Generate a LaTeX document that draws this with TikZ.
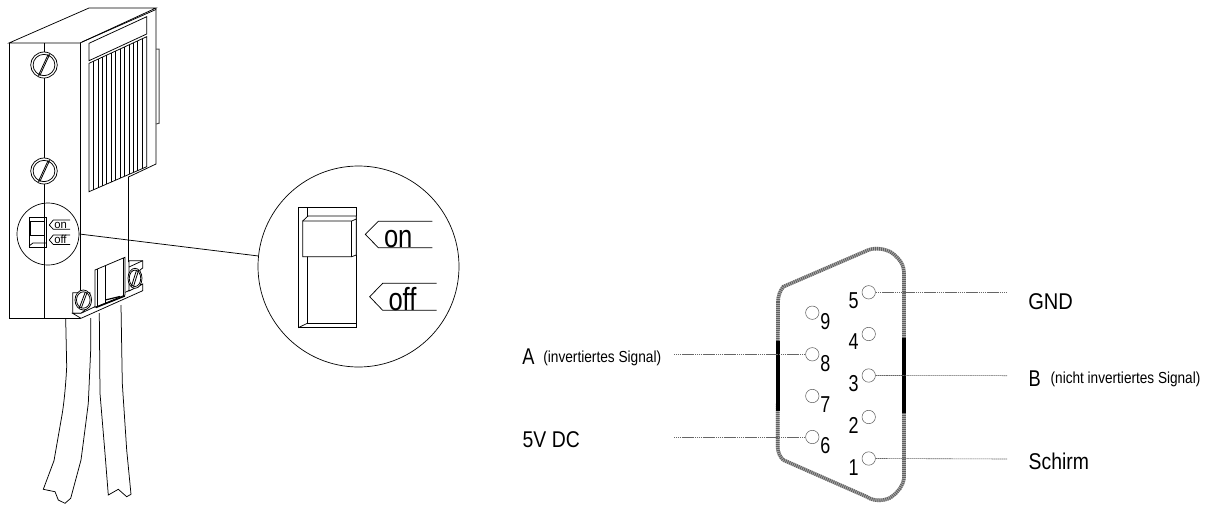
\documentclass[tikz,border=0pt]{standalone}
\usepackage{graphicx}
\usepackage{fontspec}
\setmainfont{Liberation Sans}
\usetikzlibrary{calc}
\newcommand\tx[3]{\scalebox{#2}[1]{\fontsize{#1pt}{#1pt}\selectfont #3}}
\newcommand\screwat[4]{%
  \draw[fill=white] (#1,#2) ellipse (#3 and #4);
  \draw (#1,#2) ellipse ({#3*0.82} and {#4*0.82});
  \begin{scope}[shift={(#1,#2)}]
    \draw[line width=0.8pt] ({-0.32*#3-1.4},{0.82*#4}) -- ({0.42*#3-1.4},{-0.82*#4});
    \draw[line width=0.8pt] ({-0.42*#3+1.4},{0.82*#4}) -- ({0.32*#3+1.4},{-0.82*#4});
  \end{scope}}
\tikzset{
  ln/.style={line width=0.75pt,black},
  lbl/.style={anchor=base west,inner sep=0pt,outer sep=0pt,text=black},
  pin/.style={circle,draw=black!65,line width=0.5pt,fill=white,minimum size=13.4pt,inner sep=0pt},
  num/.style={inner sep=0pt,outer sep=0pt,text=black},
  lead/.style={line width=0.6pt,black!60,dash pattern=on 1.6pt off 0.5pt},
  rimA/.style={line width=3.6pt,black!30},
  rimB/.style={line width=3.6pt,black!62,dash pattern=on 1pt off 1pt},
  bar/.style={line width=4pt,black},
  lens/.style={circle,draw=black,line width=0.7pt,inner sep=0pt}
}
\begin{document}
\begin{tikzpicture}[x=1pt,y=-1pt,ln]
\useasboundingbox (0,0) rectangle (1208,504);
% cables
\draw (65.7,319) -- (66.7,366.7) .. controls (65,400) and (61.7,416.7) .. (61.7,416.7) -- (54,460.7) -- (43.3,489.3) -- (55,491.7) -- (58.3,500) -- (65,503.3) -- (70.7,498.3) -- (81,460) .. controls (85,430) and (88.3,403.3) .. (88.3,403.3) -- (90.7,350) -- (90.7,318);
\draw (99.3,313) -- (100,393.3) -- (105,453.3) -- (108.3,495) -- (118.3,489.3) -- (126.7,496.7) -- (131,494.3) -- (126.7,450) -- (122.3,383.3) -- (121,305);
% body
\draw (9,43) -- (89,8) -- (156,8) -- (80,43) -- cycle;
\draw (9,43) -- (9,318.5) -- (80,318.5) -- (80,43);
\draw (156,8) -- (156,164) -- (128.5,177) -- (128.5,262);
\draw (44.5,43) -- (44.5,318.5);
\draw (82,42) -- (156,9.5);
\draw[line width=1pt,black!70] (156,49) -- (159,49) -- (159,123.3) -- (156,124);
% label plate
\draw (89,43.3) -- (146.7,16.7) -- (146.7,34) -- (89,60.7) -- cycle;
% grille
\draw (89,63.3) -- (146.7,36.7) -- (146.7,166.7) -- (89,191.7) -- cycle;
\foreach \i in {1,...,12} {
  \pgfmathsetmacro\gx{89+\i*57.7/13}
  \pgfmathsetmacro\ga{63.3-\i*26.6/13}
  \pgfmathsetmacro\gb{191.7-\i*25/13}
  \draw (\gx,\ga) -- (\gx,\gb);
}
% screws
\screwat{44}{65}{13.3}{13}
\screwat{44}{171}{13.3}{13}
% small lens
\node[lens,minimum size=62pt] (lenssmall) at (48,234) {};
\draw[line width=0.9pt] (29,217) rectangle (46,247);
\draw[line width=0.9pt,fill=white] (30.7,221.5) rectangle (44,235.7);
\draw (29,246) -- (33,243) -- (46,243);
\draw (70,220) -- (53.3,220) -- (49.3,225) -- (53.3,229.3) -- (70,229.3);
\draw (70,235) -- (53.3,235) -- (49.3,240) -- (53.3,244.5) -- (70,244.5);
\node[lbl] (onsmall) at (54.3,228.3) {\tx{11.5}{0.98}{on}};
\node[lbl] (offsmall) at (54.3,243.3) {\tx{11.5}{0.98}{off}};
% bracket
\draw[fill=white] (72.7,292.7) -- (90,292.7) -- (90,306) -- (81,313.3) -- (72.7,313.3) -- cycle;
\draw[fill=white] (81,318.3) -- (142.7,290.7) -- (142.7,284) -- (81,313.3) -- (72.7,313.3) -- (81,318.3);
\draw[fill=white] (129,260.7) -- (142.7,260.7) -- (142.7,268) -- (140,270) -- (140,285) -- (142.7,284) -- (129,291) -- cycle;
\draw (129,267) -- (142.7,260.7);
\screwat{83.3}{300}{8.3}{10}
\screwat{135}{278.3}{7}{10}
\draw[fill=white] (95,270) -- (125,257.3) -- (125,295) -- (95,307.3) -- cycle;
\draw (97,269) -- (97,306.5);
\draw (123,258) -- (123,296);
\draw (105.3,265.7) -- (105.3,303.3);
\draw[line width=1.3pt] (96,307.5) -- (125,296);
\draw[line width=1.2pt] (105.3,300) -- (120,296.5);
% large lens
\node[lens,minimum size=201pt] (lensbig) at (358.5,266.5) {};
\draw (lenssmall.east) -- (lensbig.174);
\draw (298.3,207.7) rectangle (356.3,327.7);
\draw (307.3,207.7) -- (307.3,323.3) -- (356.3,323.3);
\draw (298.3,327.7) -- (307.3,323.3);
\draw[fill=white] (302.7,221) -- (308,216) -- (356.3,216) -- (356.3,255) -- (351.7,256.7) -- (302.7,256.7) -- cycle;
\draw (302.7,221) -- (351.7,221) -- (356.3,219);
\draw[line width=1.3pt] (351.7,221) -- (351.7,256.7);
\draw (432.3,221.3) -- (378.3,221.3) -- (365.3,234.3) -- (378.3,247.7) -- (432.3,247.7);
\draw (436.7,283.3) -- (382.7,283.3) -- (369.7,296.7) -- (382.7,310.3) -- (436.7,310.3);
\node[lbl] (onbig) at (384,247.3) {\tx{32}{0.8}{on}};
\node[lbl] (offbig) at (388.5,310) {\tx{32}{0.8}{off}};
% sub-D outline
\def\rimpath{(778,302) .. controls (778,296) and (780,291) .. (783.3,286.7) -- (868.3,250) .. controls (875,247.5) and (885,248.5) .. (891.7,252.7) .. controls (899,258) and (904,265) .. (904,272) -- (904,478) .. controls (903,486) and (898,492) .. (891.7,496.7) .. controls (886,501) and (874,502) .. (866.7,496.7) -- (783.3,460) .. controls (780,457) and (778,452) .. (777.7,448) -- cycle}
\draw[rimA] \rimpath;
\draw[rimB] \rimpath;
\draw[bar] (778,341) -- (778,411);
\draw[bar] (904,338) -- (904,412.7);
% leader ends
\coordinate (endA) at (674,354.3);
\coordinate (end5V) at (674,437);
\coordinate (endGND) at (1007,292.3);
\coordinate (endB) at (1007,375.7);
\coordinate (endS) at (1007,459);
% pins
\node[pin] (p5) at (868.7,292.3) {};
\node[pin] (p4) at (868.7,334) {};
\node[pin] (p3) at (868.7,375.5) {};
\node[pin] (p2) at (868.7,417) {};
\node[pin] (p1) at (868.7,458.5) {};
\node[pin] (p9) at (812.3,312.7) {};
\node[pin] (p8) at (812.3,354.3) {};
\node[pin] (p7) at (812.3,396) {};
\node[pin] (p6) at (812.3,437) {};
\draw[lead] (p5.east) -- (endGND);
\draw[lead] (p3.east) -- (endB);
\draw[lead] (p1.east) -- (endS);
\draw[lead] (p8.west) -- (endA);
\draw[lead] (p6.west) -- (end5V);
% numbers
\foreach \n/\px/\py in {5/853.7/301,4/853.7/342,3/853.7/383.3,2/853.7/425,1/853.7/467.3,9/825.3/321.7,8/825.3/363.3,7/825.3/405,6/825.3/446}
  \node[num] (n\n) at (\px,\py) {\tx{23}{0.78}{\n}};
% labels
\node[lbl] (tGND) at (1028.3,309) {\tx{22.8}{0.88}{GND}};
\node[lbl] (tB) at (1028.7,386) {\tx{22.8}{0.8}{B}};
\node[lbl] (tBs) at (1050.7,383.3) {\tx{16}{0.85}{(nicht invertiertes Signal)}};
\node[lbl] (tS) at (1028.7,469) {\tx{22.8}{0.85}{Schirm}};
\node[lbl] (tA) at (522.3,364.3) {\tx{22.8}{0.8}{A}};
\node[lbl] (tAs) at (543.3,362) {\tx{16}{0.855}{(invertiertes Signal)}};
\node[lbl] (t5V) at (522.7,447.3) {\tx{22.8}{0.85}{5V DC}};
\end{tikzpicture}
\end{document}
